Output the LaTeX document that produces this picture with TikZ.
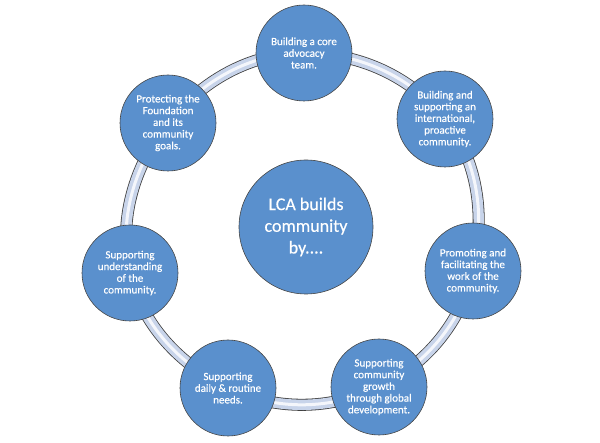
\documentclass[tikz,border=0pt]{standalone}
\usepackage{fontspec}
\setmainfont{Carlito}
\newfontfamily\spotfont{Carlito}[FakeBold=0.35]
\usepackage{tikz}
\usetikzlibrary{backgrounds}

\definecolor{spotblue}{RGB}{90,144,205}
\definecolor{ringblue}{RGB}{200,212,234}

\begin{document}
\begin{tikzpicture}[x=1pt, y=1pt, every text node part/.style={align=center}]

\tikzstyle{spot}=[circle, draw=gray!55!black, line width=0.6pt, fill=spotblue,
  text=white, inner sep=0pt, minimum size=96pt,
  font=\spotfont\fontsize{11}{11.7}\selectfont]
\tikzstyle{hubspot}=[spot, minimum size=134pt, font=\spotfont\fontsize{18}{21.7}\selectfont]
\tikzstyle{ring}=[draw=gray!50!black, line width=12pt, looseness=0.9,
  postaction={draw=ringblue, line width=10.4pt},
  postaction={draw=white!80!ringblue, line width=3pt}]

\useasboundingbox (0, 0) rectangle (600, 442);

\node (hub) [hubspot] at (306, 215) {LCA builds\\community\\by....};

\node (p1) [spot] at (304, 389) {Building a core\\advocacy\\team.};
\node (p2) [spot] at (445, 323) {Building and\\supporting an\\international,\\proactive\\community.};
\node (p3) [spot] at (473, 171) {Promoting and\\facilitating the\\work of the\\community.};
\node (p4) [spot] at (379, 55) {Supporting\\community\\growth\\through global\\development.};
\node (p5) [spot] at (228, 54) {Supporting\\daily \& routine\\needs.};
\node (p6) [spot] at (130, 169) {Supporting\\understanding\\of the\\community.};
\node (p7) [spot] at (168, 319) {Protecting the\\Foundation\\and its\\community\\goals.};

\begin{scope}[on background layer]
\path [ring] (p1.center) to [out=0, in=128.6] (p2.center);
\path [ring] (p2.center) to [out=-51.4, in=77.1] (p3.center);
\path [ring] (p3.center) to [out=-102.9, in=25.7] (p4.center);
\path [ring] (p4.center) to [out=-154.3, in=-25.7] (p5.center);
\path [ring] (p5.center) to [out=154.3, in=-77.1] (p6.center);
\path [ring] (p6.center) to [out=102.9, in=231.4] (p7.center);
\path [ring] (p7.center) to [out=51.4, in=180] (p1.center);
\end{scope}

\end{tikzpicture}
\end{document}
